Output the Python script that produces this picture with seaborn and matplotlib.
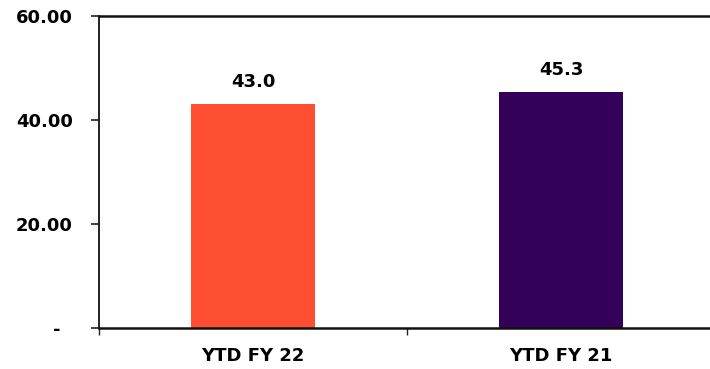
import matplotlib
matplotlib.use("Agg")
import matplotlib.pyplot as plt
import seaborn as sns
import pandas as pd
from matplotlib.ticker import FixedLocator, FuncFormatter

periods = ["YTD FY 22", "YTD FY 21"]
values = [43.0, 45.3]
bar_colors = ["#FF4F32", "#33005A"]
y_ticks = [0, 20, 40, 60]

sns.set_theme(style="white")
plt.rcParams["font.family"] = ["DejaVu Sans"]
plt.rcParams["font.weight"] = "bold"

df = pd.DataFrame({"period": periods, "value": values})

fig = plt.figure(figsize=(7.10, 3.69), dpi=100)
ax = fig.add_axes([99 / 710, 1 - 328 / 369, 616 / 710, 312 / 369])

sns.barplot(data=df, x="period", y="value", hue="period",
            palette=dict(zip(periods, bar_colors)), width=0.4,
            saturation=1, legend=False, linewidth=0, ax=ax)

ax.set_xlim(-0.5, 1.5)
ax.set_ylim(0, 60)
ax.set_xlabel("")
ax.set_ylabel("")

# value labels above bars
for i, v in enumerate(values):
    ax.annotate(f"{v:.1f}", (i, v), xytext=(0, 9.5), textcoords="offset points",
                ha="center", va="bottom", fontsize=13, fontweight="bold",
                color="#000000")

ax.set_yticks(y_ticks)
ax.yaxis.set_major_formatter(FuncFormatter(lambda v, p: "-  " if v == 0 else f"{v:.2f}"))
ax.tick_params(axis="y", which="major", direction="out", length=6, width=1.2,
               color="#222222", labelsize=13, labelcolor="#000000", pad=13, left=True)
for lab in ax.get_yticklabels():
    lab.set_fontweight("bold")

ax.set_xticks(range(len(periods)))
ax.set_xticklabels(periods, fontsize=13, fontweight="bold", color="#000000")
ax.tick_params(axis="x", which="major", length=0, pad=14, bottom=True)
ax.xaxis.set_minor_locator(FixedLocator([-0.5, 0.5]))
ax.tick_params(axis="x", which="minor", direction="out", length=5, width=1.0,
               color="#222222", bottom=True)

for side in ["left", "bottom", "top"]:
    ax.spines[side].set_visible(True)
    ax.spines[side].set_color("#111111")
    ax.spines[side].set_linewidth(1.8)
ax.spines["left"].set_linewidth(1.3)
ax.spines["right"].set_visible(False)

fig.savefig("out.png", dpi=100)
